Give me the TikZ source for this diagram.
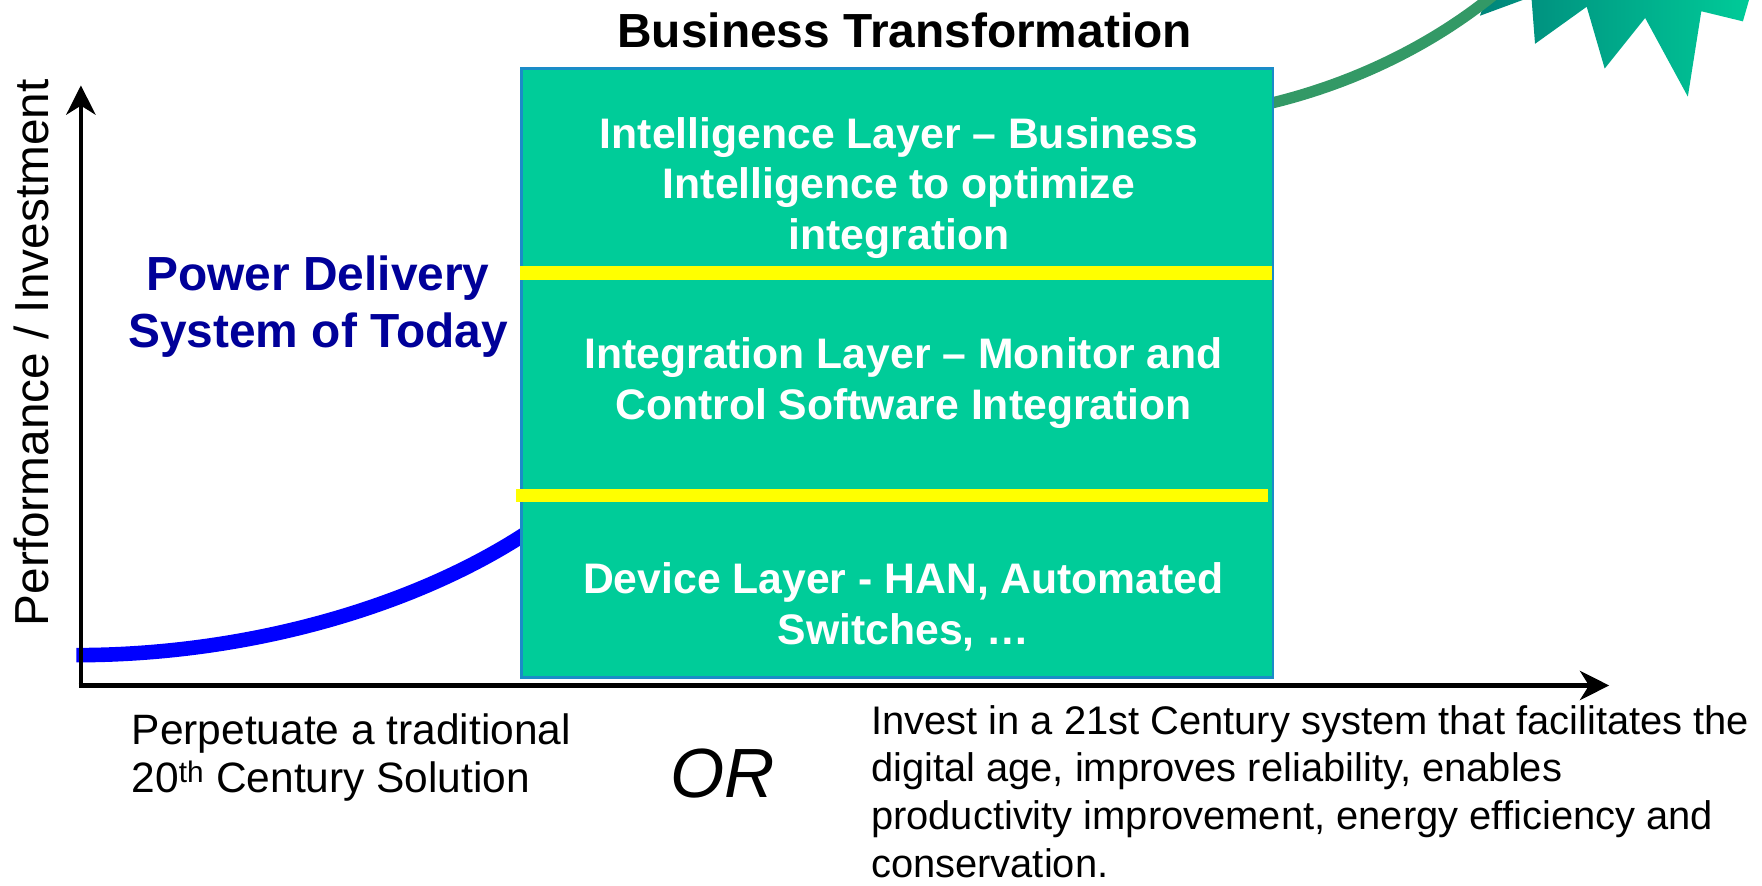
\documentclass[tikz,border=0pt]{standalone}
\usepackage{fontspec}
\setmainfont{Liberation Sans}
\usetikzlibrary{arrows.meta}
\definecolor{boxgreen}{HTML}{00CC99}
\definecolor{boxborder}{HTML}{1A8CC8}
\definecolor{laneyellow}{HTML}{FFFF00}
\definecolor{navytext}{HTML}{000099}
\definecolor{curveblue}{HTML}{0000FF}
\definecolor{curvegreen}{HTML}{339966}
\definecolor{starteal}{HTML}{00857A}
\tikzset{
  axis/.style={line width=4pt, -{Stealth[length=26pt,width=26pt,inset=8pt]}},
  layertext/.style={text=white, font=\bfseries\fontsize{38}{45}\selectfont, align=center, inner sep=0pt},
  divider/.style={laneyellow, line width=12pt},
  plain/.style={font=\fontsize{37.8}{43}\selectfont, align=left, inner sep=0pt, anchor=west}
}
\begin{document}
\begin{tikzpicture}[x=1pt,y=-1pt]
\useasboundingbox (0,0) rectangle (1568,788);
\begin{scope}
\clip (0,0) rectangle (1568,788);
% star burst
\shade[left color=starteal, right color=boxgreen]
  (1322,-30) -- (1322,0) -- (1317,14) -- (1355,0) -- (1359,-4) -- (1363,0) -- (1366,39)
  -- (1412,6) -- (1428,61) -- (1464,16) -- (1502,86) -- (1514,10) -- (1551,19)
  -- (1557,-2) -- (1560,-30) -- cycle;
% curves
\coordinate (bstart) at (68,583);
\coordinate (bend) at (472,472);
\draw[curveblue, line width=13pt] (bstart) .. controls (220,583) and (370,540) .. (bend);
\coordinate (gstart) at (1126,93);
\coordinate (gend) at (1345,-18);
\draw[curvegreen, line width=10pt] (gstart) .. controls (1200,76) and (1280,40) .. (gend);
\end{scope}
% box
\node[draw=boxborder, line width=2pt, fill=boxgreen, minimum width=669pt, minimum height=542pt,
      inner sep=0pt, anchor=north west] (box) at (463,60) {};
\coordinate (d1l) at (463,243);
\coordinate (d1r) at (1132,243);
\coordinate (d2l) at (459,441);
\coordinate (d2r) at (1128,441);
\draw[divider] (d1l) -- (d1r);
\draw[divider] (d2l) -- (d2r);
% layer texts
\node[layertext] (intel) at (800,167) {Intelligence Layer -- Business\\Intelligence to optimize\\integration};
\node[layertext] (integ) at (804,341) {Integration Layer -- Monitor and\\Control Software Integration};
\node[layertext] (device) at (804,540) {Device Layer - HAN, Automated\\Switches, \dots};
% title
\node[font=\bfseries\fontsize{42.6}{48}\selectfont, inner sep=0pt] (title) at (805,27) {Business Transformation};
% axes
\coordinate (origin) at (72,610);
\coordinate (ytip) at (72,76);
\coordinate (xtip) at (1432,610);
\draw[axis] ([xshift=-2pt]origin) -- (xtip);
\draw[axis] ([yshift=2pt]origin) -- (ytip);
% labels
\node[rotate=90, font=\fontsize{42.5}{48}\selectfont, inner sep=0pt] (ylabel) at (28,314) {Performance / Investment};
\node[text=navytext, font=\bfseries\fontsize{42.6}{51}\selectfont, align=center, inner sep=0pt] (today) at (283,273) {Power Delivery\\System of Today};
\node[plain] (left) at (117,674) {Perpetuate a traditional\\20\textsuperscript{th} Century Solution};
\node[font=\itshape\fontsize{62}{70}\selectfont, inner sep=0pt] (or) at (643,688) {OR};
\node[plain, font=\fontsize{35.5}{42.5}\selectfont, anchor=south west, text depth=0pt] (right) at (775,781) {Invest in a 21st Century system that facilitates the\\digital age, improves reliability, enables\\productivity improvement, energy efficiency and\\conservation.};
\end{tikzpicture}
\end{document}
